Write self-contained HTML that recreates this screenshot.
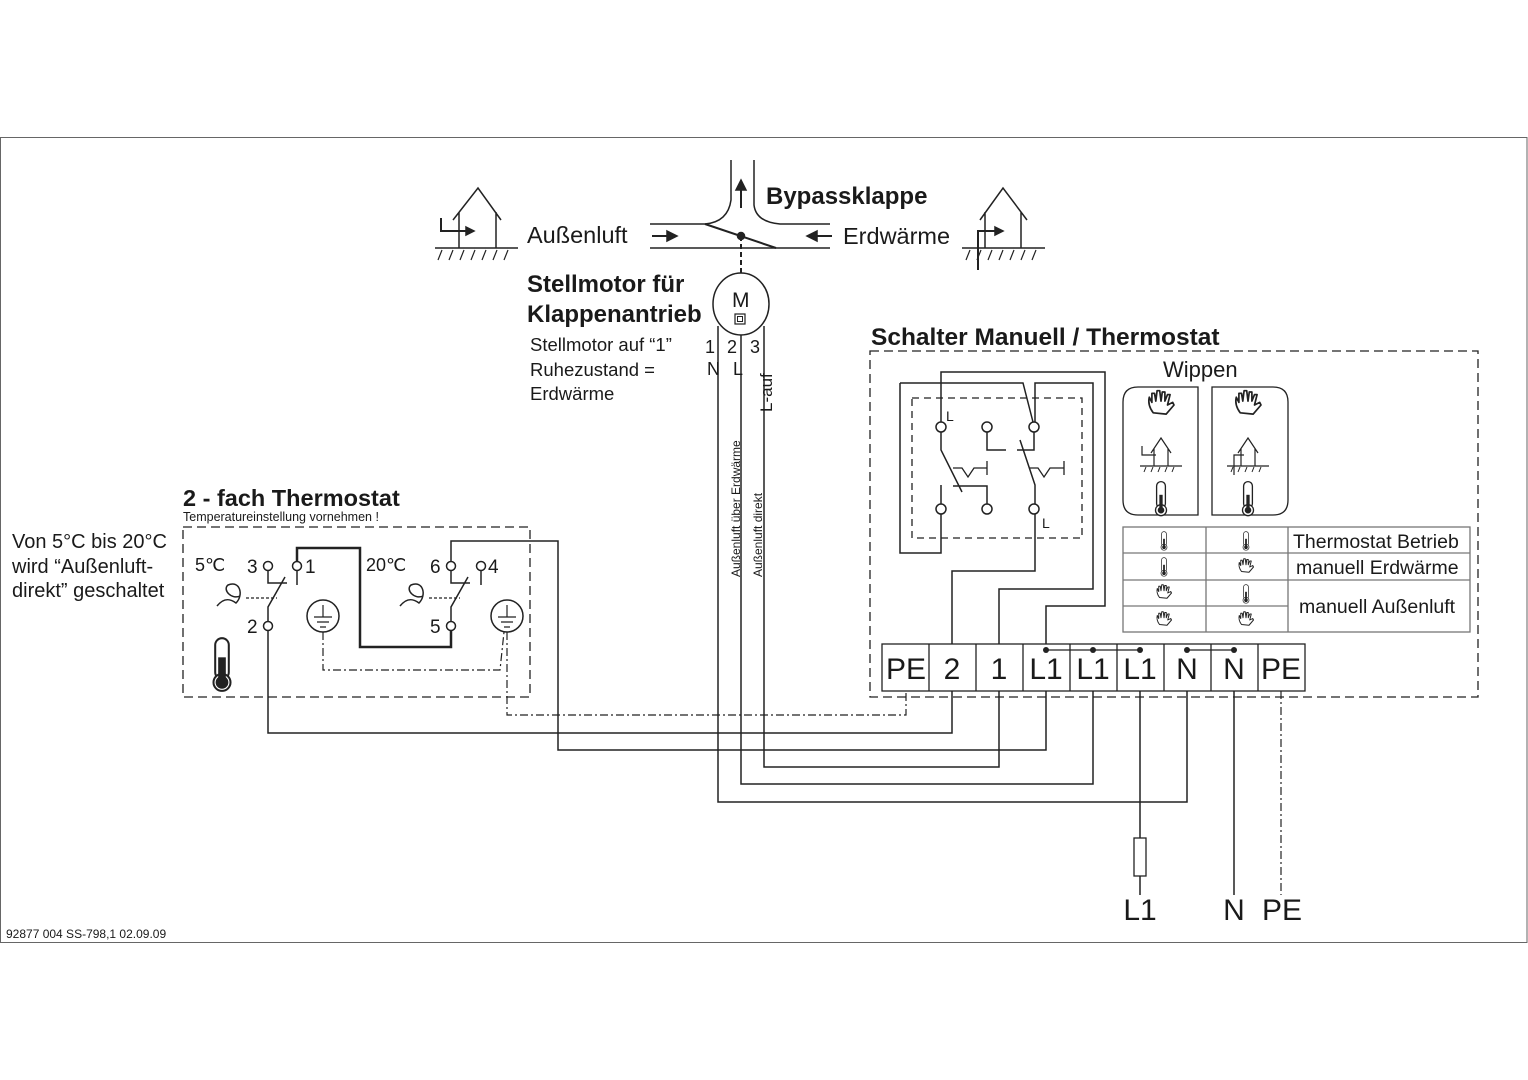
<!DOCTYPE html>
<html><head><meta charset="utf-8"><style>
html,body{margin:0;padding:0;background:#fff}
svg{display:block}
text{font-family:"Liberation Sans",sans-serif;fill:#1a1a1a}
.b{font-weight:bold}
</style></head><body>
<svg width="1528" height="1080" viewBox="0 0 1528 1080" xmlns="http://www.w3.org/2000/svg">
<defs>
<g id="therm"><rect x="-4" y="-14" width="8" height="24" rx="4" fill="#fff" stroke="#222" stroke-width="1.2"/><circle cx="0" cy="12" r="5" fill="#fff" stroke="#222" stroke-width="1.2"/><circle cx="0" cy="12" r="3" fill="#222"/><rect x="-1.5" y="-2" width="3" height="12" fill="#222"/></g>
<g id="hand"><path d="M-6 6 C-9 2 -10 -2 -9 -6 L-7 -2 L-7 -9 L-5 -9 L-4 -3 L-3 -11 L-1 -11 L0 -3 L1 -10 L3 -10 L3 -3 L5 -8 L7 -8 L5 0 L9 -2 L10 0 L4 7 Z" fill="#fff" stroke="#222" stroke-width="1.3" stroke-linejoin="round"/></g>
</defs>
<g fill="none" stroke="#222" stroke-width="1.5">
<rect x="0.5" y="137.5" width="1526.5" height="805" stroke="#666" stroke-width="1"/>
<path d="M453 220 L478 188 L501 220 M459 212 V248 M496 212 V248 M435 248 H518"/>
<path d="M441 218 V231 H466" stroke-width="2"/><path d="M466 227 L474 231 L466 235 Z" fill="#222"/>
<path d="M438 260 L442 250 M449 260 L453 250 M460 260 L464 250 M471 260 L475 250 M482 260 L486 250 M493 260 L497 250 M504 260 L508 250" stroke-width="1.2"/>
<path d="M980 220 L1003 188 L1027 220 M985 212 V248 M1021 212 V248 M962 248 H1045"/>
<path d="M978 270 V231 H995" stroke-width="2"/><path d="M995 227 L1003 231 L995 235 Z" fill="#222"/>
<path d="M966 260 L970 250 M977 260 L981 250 M988 260 L992 250 M999 260 L1003 250 M1010 260 L1014 250 M1021 260 L1025 250 M1032 260 L1036 250" stroke-width="1.2"/>
<path d="M650 224 H705 Q728 222 731 200 V160 M754 160 V205 Q756 222 780 224 H830 M650 248 H830"/>
<path d="M705 224 L776 248" stroke-width="2"/>
<circle cx="741" cy="236" r="3.5" fill="#222"/>
<path d="M741 236 V274" stroke-dasharray="5,3" stroke-width="2"/>
<path d="M741 208 V186" stroke-width="2"/><path d="M736 190 L741 180 L746 190 Z" fill="#222"/>
<path d="M652 236 H668" stroke-width="2"/><path d="M667 231 L677 236 L667 241 Z" fill="#222"/>
<path d="M832 236 H816" stroke-width="2"/><path d="M817 231 L807 236 L817 241 Z" fill="#222"/>
<ellipse cx="741" cy="304" rx="28" ry="31"/>
<rect x="735" y="314" width="10" height="10" stroke-width="1.2"/><rect x="737.5" y="316.5" width="5" height="5" stroke-width="1"/>
<path d="M718 326 V802 H1187 V691 M741 335 V784 H1093 V691 M764 326 V767 H999 V691"/>
<rect x="183" y="527" width="347" height="170" stroke-dasharray="9,5" stroke-width="1.3"/>
<circle cx="268" cy="566" r="4.5"/><circle cx="297" cy="566" r="4.5"/><circle cx="268" cy="626" r="4.5"/>
<circle cx="451" cy="566" r="4.5"/><circle cx="481" cy="566" r="4.5"/><circle cx="451" cy="626" r="4.5"/>
<path d="M268 571 V583 H287 M297 571 V585 M268 621 V607 L285 577 M451 571 V583 H470 M481 571 V585 M451 621 V607 L468 577"/>
<path d="M246 598 H277 M429 598 H460" stroke-dasharray="3,2" stroke-width="1.2"/>
<path d="M217 606 C225 596 232 600 236 603 C244 595 240 580 228 585 C222 590 232 600 240 596" stroke-width="1.5"/>
<path d="M400 606 C408 596 415 600 419 603 C427 595 423 580 411 585 C405 590 415 600 423 596" stroke-width="1.5"/>
<path d="M297 561 V548 H360 V647 H451 V631" stroke-width="2.5"/>
<path d="M451 561 V541 H558 V750 H1046 V691"/>
<path d="M268 631 V733 H952 V691"/>
<circle cx="323" cy="616" r="16"/><circle cx="507" cy="616" r="16"/>
<path d="M323 605 V617 M314 617 H332 M317 622 H329 M320 627 H326 M507 605 V617 M498 617 H516 M501 622 H513 M504 627 H510" stroke-width="1.2"/>
<path d="M323 632 V670 H500 L504 632 M507 632 V715 H906 V691 M1281 691 V895" stroke-dasharray="8,3,2,3" stroke-width="1.2"/>
<g transform="translate(222,662) scale(1.7)"><use href="#therm"/></g>
<rect x="870" y="351" width="608" height="346" stroke-dasharray="9,5" stroke-width="1.3"/>
<rect x="912" y="398" width="170" height="140" stroke-dasharray="7,5" stroke-width="1.3"/>
<path d="M952 644 V571 H1035 V514 M999 644 V589 H1093 V383 H1035 V422 M1046 644 V606 H1105 V372 H941 V422"/>
<path d="M900 383 H1023 L1033 422 M900 383 V553 H941 V514"/>
<circle cx="941" cy="427" r="5" fill="#fff"/><circle cx="987" cy="427" r="5" fill="#fff"/><circle cx="1034" cy="427" r="5" fill="#fff"/>
<circle cx="941" cy="509" r="5" fill="#fff"/><circle cx="987" cy="509" r="5" fill="#fff"/><circle cx="1034" cy="509" r="5" fill="#fff"/>
<path d="M941 432 V450 L962 492 M941 485 V504 M953 486 H987 V504 M987 432 V450 H1006 M1020 440 L1035 485 V504 M1034 432 V450 H1017"/>
<path d="M953 468 H962 L968 477 L974 468 H987 M987 461 V475 M1029 468 H1038 L1044 477 L1050 468 H1064 M1064 461 V475" stroke-width="1.3"/>
<path d="M1198 387 H1138 Q1123 387 1123 402 V500 Q1123 515 1138 515 H1198 Z M1212 387 H1273 Q1288 387 1288 402 V500 Q1288 515 1273 515 H1212 Z" stroke-width="1.3"/>
<path d="M1151 453 L1161 438 L1171 453 M1154 449 V466 M1168 449 V466 M1140 466 H1182 M1142 446 V455 H1156" stroke-width="1.2"/>
<path d="M1238 453 L1248 438 L1258 453 M1241 449 V466 M1255 449 V466 M1227 466 H1269 M1234 475 V455 H1244" stroke-width="1.2"/>
<path d="M1144 472 L1146 467 M1151 472 L1153 467 M1158 472 L1160 467 M1165 472 L1167 467 M1172 472 L1174 467 M1231 472 L1233 467 M1238 472 L1240 467 M1245 472 L1247 467 M1252 472 L1254 467 M1259 472 L1261 467" stroke-width="1"/>
<rect x="1123" y="527" width="347" height="105" stroke="#777" stroke-width="1.3"/>
<path d="M1123 553 H1470 M1123 580 H1470 M1123 606 H1288 M1206 527 V632 M1288 527 V632" stroke="#777" stroke-width="1.3"/>
<rect x="882" y="644" width="423" height="47" stroke-width="1.3"/>
<path d="M929 644 V691 M976 644 V691 M1023 644 V691 M1070 644 V691 M1117 644 V691 M1164 644 V691 M1211 644 V691 M1258 644 V691" stroke-width="1.3"/>
<path d="M1046 650 H1140 M1187 650 H1234" stroke-width="1.3"/>
<g fill="#222" stroke="none"><circle cx="1046" cy="650" r="3"/><circle cx="1093" cy="650" r="3"/><circle cx="1140" cy="650" r="3"/><circle cx="1187" cy="650" r="3"/><circle cx="1234" cy="650" r="3"/></g>
<path d="M1140 691 V838 M1140 876 V895 M1234 691 V895"/>
<rect x="1134" y="838" width="12" height="38" stroke-width="1.3"/>
</g>
<g transform="translate(1161,405) scale(1.3)"><use href="#hand"/></g>
<g transform="translate(1248,405) scale(1.3)"><use href="#hand"/></g>
<g transform="translate(1161,497) scale(1.1)"><use href="#therm"/></g>
<g transform="translate(1248,497) scale(1.1)"><use href="#therm"/></g>
<g transform="translate(1164,540) scale(0.6)"><use href="#therm"/></g>
<g transform="translate(1246,540) scale(0.6)"><use href="#therm"/></g>
<g transform="translate(1164,566) scale(0.6)"><use href="#therm"/></g>
<g transform="translate(1246,567) scale(0.75)"><use href="#hand"/></g>
<g transform="translate(1164,593) scale(0.75)"><use href="#hand"/></g>
<g transform="translate(1246,593) scale(0.6)"><use href="#therm"/></g>
<g transform="translate(1164,620) scale(0.75)"><use href="#hand"/></g>
<g transform="translate(1246,620) scale(0.75)"><use href="#hand"/></g>
<text x="766" y="204" class="b" font-size="24">Bypassklappe</text>
<text x="527" y="243" font-size="23.5">Außenluft</text>
<text x="843" y="244" font-size="23.5">Erdwärme</text>
<text x="527" y="292" class="b" font-size="24">Stellmotor für</text>
<text x="527" y="322" class="b" font-size="24">Klappenantrieb</text>
<text x="732" y="307" font-size="21">M</text>
<text x="530" y="351" font-size="18.5">Stellmotor auf “1”</text>
<text x="530" y="376" font-size="18.5">Ruhezustand =</text>
<text x="530" y="400" font-size="18.5">Erdwärme</text>
<text x="705" y="353" font-size="18">1</text><text x="727" y="353" font-size="18">2</text><text x="750" y="353" font-size="18">3</text>
<text x="707" y="375" font-size="18">N</text><text x="733" y="375" font-size="18">L</text>
<text transform="translate(772,412) rotate(-90)" font-size="17">L-auf</text>
<text transform="translate(740,577) rotate(-90)" font-size="12">Außenluft über Erdwärme</text>
<text transform="translate(762,577) rotate(-90)" font-size="12">Außenluft direkt</text>
<text x="871" y="345" class="b" font-size="24.5">Schalter Manuell / Thermostat</text>
<text x="1163" y="377" font-size="22">Wippen</text>
<text x="946" y="421" font-size="14">L</text><text x="1042" y="528" font-size="14">L</text>
<text x="1293" y="548" font-size="19.5">Thermostat Betrieb</text>
<text x="1296" y="574" font-size="19.5">manuell Erdwärme</text>
<text x="1299" y="613" font-size="19.5">manuell Außenluft</text>
<g font-size="30" text-anchor="middle">
<text x="906" y="679">PE</text><text x="952" y="679">2</text><text x="999" y="679">1</text>
<text x="1046" y="679">L1</text><text x="1093" y="679">L1</text><text x="1140" y="679">L1</text>
<text x="1187" y="679">N</text><text x="1234" y="679">N</text><text x="1281" y="679">PE</text>
<text x="1140" y="920">L1</text><text x="1234" y="920">N</text><text x="1282" y="920">PE</text>
</g>
<text x="183" y="506" class="b" font-size="23.5">2 - fach Thermostat</text>
<text x="183" y="521" font-size="12.5">Temperatureinstellung vornehmen !</text>
<text x="12" y="548" font-size="20">Von 5°C bis 20°C</text>
<text x="12" y="573" font-size="20">wird “Außenluft-</text>
<text x="12" y="597" font-size="20">direkt” geschaltet</text>
<text x="195" y="571" font-size="18">5℃</text>
<text x="366" y="571" font-size="18">20℃</text>
<text x="247" y="573" font-size="19">3</text><text x="305" y="573" font-size="19">1</text>
<text x="247" y="633" font-size="19">2</text>
<text x="430" y="573" font-size="19">6</text><text x="488" y="573" font-size="19">4</text>
<text x="430" y="633" font-size="19">5</text>
<text x="6" y="938" font-size="12">92877 004  SS-798,1   02.09.09</text>
</svg>
</body></html>
